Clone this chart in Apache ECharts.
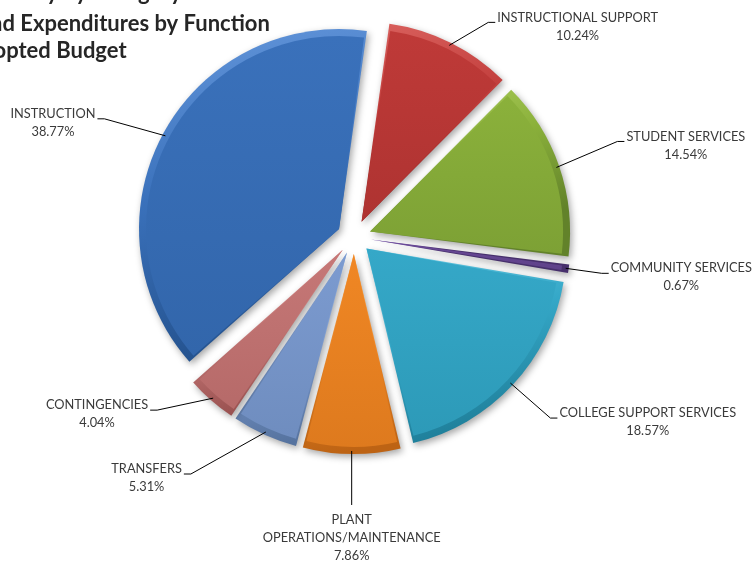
<!DOCTYPE html>
<html>
<head>
<meta charset="utf-8">
<script src="https://cdn.jsdelivr.net/npm/echarts@6/dist/echarts.min.js"></script>
<style>
  html, body { margin: 0; padding: 0; background: #fff; }
  #chart { width: 754px; height: 564px; }
</style>
</head>
<body>
<div id="chart"></div>
<script>
// ---------- data ----------
const categories = [
  "INSTRUCTIONAL SUPPORT", "STUDENT SERVICES", "COMMUNITY SERVICES",
  "COLLEGE SUPPORT SERVICES", "PLANT OPERATIONS/MAINTENANCE", "TRANSFERS",
  "CONTINGENCIES", "INSTRUCTION"
];
const shares = [10.24, 14.54, 0.67, 18.57, 7.86, 5.31, 4.04, 38.77];
const titleLines = ["Summary by Category", "Fund Expenditures by Function", "Adopted Budget"];

// slice colours: [light, base, dark]
const palette = [
  ["#d9605d", "#bf3a38", "#8f2523"],
  ["#b0d060", "#8bb13b", "#62822a"],
  ["#9074c0", "#6a4a98", "#47306c"],
  ["#6ccbe4", "#35a8c8", "#1f7f9a"],
  ["#fbb060", "#f08724", "#bd6314"],
  ["#a8c0e8", "#7c9bd0", "#56739f"],
  ["#e0a09f", "#c67877", "#98504f"],
  ["#6497dc", "#3a71bb", "#24528e"]
];

// where each label line ends, relative to the slice edge point
const lineEnd = [[46, -23], [68, -26], [43, 5], [47, 35], [0, 54], [-82, 42], [-63, 12], [-68, -17]];

const OFFSET = 17;
const FONT = "12.8px Lato";
const chart = echarts.init(document.getElementById("chart"));

// outer rim: light on top, dark below (bevel edge)
function rimStyle(i) {
  const [light, base, dark] = palette[i];
  return {
    color: new echarts.graphic.LinearGradient(0, 0, 0.3, 1, [
      { offset: 0, color: light }, { offset: 0.5, color: base }, { offset: 1, color: dark }
    ]),
    shadowBlur: 7,
    shadowOffsetX: 2,
    shadowOffsetY: 3,
    shadowColor: "rgba(0,0,0,0.35)"
  };
}
// inner face
function faceStyle(i) {
  const [light, base, dark] = palette[i];
  return {
    color: new echarts.graphic.LinearGradient(0, 0, 0, 1, [
      { offset: 0, color: base }, { offset: 1, color: echarts.color.lerp(0.35, [base, dark]) }
    ])
  };
}

const pieBase = {
  type: "pie",
  center: [354, 237],
  startAngle: 82,
  clockwise: true,
  selectedMode: "multiple",
  selectedOffset: OFFSET,
  emphasis: { scale: false },
  label: { show: false },
  labelLine: { show: false }
};

chart.setOption({
  animation: false,
  title: {
    text: `{a|${titleLines[0]}}\n{b|${titleLines[1]}}\n{b|${titleLines[2]}}`,
    left: -39,
    top: -30,
    textStyle: {
      fontFamily: "Lato", fontWeight: "bold", fontSize: 22, color: "#262626",
      rich: {
        a: { fontFamily: "Lato", fontWeight: "bold", fontSize: 22, lineHeight: 35, color: "#262626" },
        b: { fontFamily: "Lato", fontWeight: "bold", fontSize: 22, lineHeight: 27, color: "#262626" }
      }
    }
  },
  series: [
    Object.assign({}, pieBase, {
      radius: 200,
      data: categories.map((name, i) => ({ name, value: shares[i], selected: true, itemStyle: rimStyle(i) }))
    }),
    Object.assign({}, pieBase, {
      radius: 193,
      padAngle: 1.1,
      silent: true,
      data: categories.map((name, i) => ({ name, value: shares[i], selected: true, itemStyle: faceStyle(i) }))
    })
  ]
});

// ---------- labels, placed from the pie's own layout ----------
const ctx = document.createElement("canvas").getContext("2d");
ctx.font = FONT;
const pieData = chart.getModel().getSeriesByIndex(0).getData();
const graphics = [];
categories.forEach((name, i) => {
  const lay = pieData.getItemLayout(i);
  const mid = (lay.startAngle + lay.endAngle) / 2;
  const p0 = [lay.cx + Math.cos(mid) * (lay.r + OFFSET - 3), lay.cy + Math.sin(mid) * (lay.r + OFFSET - 3)];
  const [dx, dy] = lineEnd[i];
  const end = [p0[0] + dx, p0[1] + dy];
  const lines = name.replace("PLANT ", "PLANT\n").split("\n").concat([shares[i].toFixed(2) + "%"]);
  const w = Math.max(...lines.map(l => ctx.measureText(l).width));
  let pts, tx, ty;
  if (dx === 0) {
    pts = [p0, end];
    tx = end[0]; ty = end[1] + 6;
  } else {
    const right = dx > 0;
    pts = [p0, [end[0] + (right ? -7 : 7), end[1]], end];
    tx = right ? end[0] + 2 + w / 2 : end[0] - 2 - w / 2;
    ty = end[1] - 14;
  }
  graphics.push({
    type: "polyline", silent: true, z: 10,
    shape: { points: pts },
    style: { stroke: "#000", lineWidth: 1, fill: null }
  });
  graphics.push({
    type: "text", silent: true, z: 10,
    style: {
      text: lines.join("\n"), x: tx, y: ty, align: "center", verticalAlign: "top",
      font: FONT, lineHeight: 18, fill: "#3a3a3a"
    }
  });
});
chart.setOption({ graphic: graphics });
</script>
</body>
</html>
